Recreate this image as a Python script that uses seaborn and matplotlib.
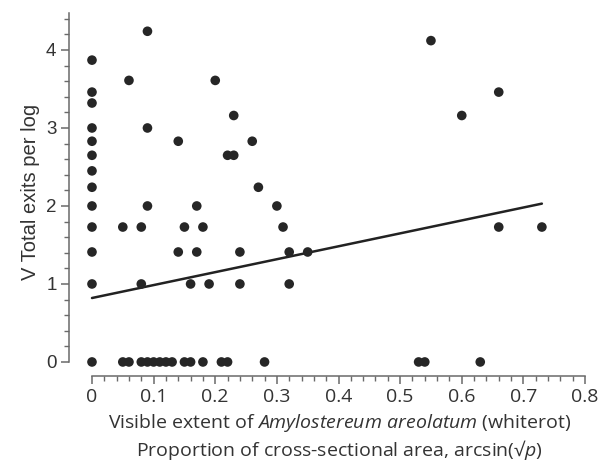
import matplotlib
matplotlib.use('Agg')
import matplotlib.pyplot as plt
import seaborn as sns
import pandas as pd
import numpy as np
from matplotlib.ticker import FixedLocator

# ---- data ----
x_vals = [0, 0, 0, 0, 0, 0, 0, 0, 0, 0, 0, 0, 0,
          0.09, 0.06, 0.20, 0.23, 0.09, 0.14, 0.22, 0.23, 0.26, 0.27,
          0.09, 0.17, 0.30,
          0.05, 0.08, 0.15, 0.18, 0.31,
          0.14, 0.17, 0.24, 0.32, 0.35,
          0.08, 0.16, 0.19, 0.24, 0.32,
          0.05, 0.06, 0.08, 0.09, 0.10, 0.11, 0.12, 0.13, 0.15, 0.16,
          0.18, 0.21, 0.22, 0.28, 0.53, 0.54, 0.63,
          0.55, 0.66, 0.60, 0.66, 0.73]
y_vals = [0, 1, 1.41, 1.73, 2, 2.24, 2.45, 2.65, 2.83, 3, 3.32, 3.46, 3.87,
          4.24, 3.61, 3.61, 3.16, 3.0, 2.83, 2.65, 2.65, 2.83, 2.24,
          2, 2, 2,
          1.73, 1.73, 1.73, 1.73, 1.73,
          1.41, 1.41, 1.41, 1.41, 1.41,
          1, 1, 1, 1, 1,
          0, 0, 0, 0, 0, 0, 0, 0, 0, 0,
          0, 0, 0, 0, 0, 0, 0,
          4.12, 3.46, 3.16, 1.73, 1.73]
fit_x = [0.0, 0.73]
fit_y = [0.82, 2.03]

x_ticks = [0, 0.1, 0.2, 0.3, 0.4, 0.5, 0.6, 0.7, 0.8]
x_tick_labels = ['0', '0.1', '0.2', '0.3', '0.4', '0.5', '0.6', '0.7', '0.8']
y_ticks = [0, 1, 2, 3, 4]
y_tick_labels = ['0', '1', '2', '3', '4']

df = pd.DataFrame({'x': x_vals, 'y': y_vals})
fit_df = pd.DataFrame({'x': fit_x, 'y': fit_y})

sns.set_theme(style='ticks')
plt.rcParams['font.family'] = ['Liberation Sans', 'DejaVu Sans']
plt.rcParams['mathtext.fontset'] = 'custom'
plt.rcParams['mathtext.rm'] = 'Open Sans'
plt.rcParams['mathtext.it'] = 'Open Sans:italic'

fig = plt.figure(figsize=(6.09, 4.62), dpi=100)
ax = fig.add_axes([69 / 609, 1 - 376 / 462, 522 / 609, 363.3 / 462])

sns.lineplot(data=fit_df, x='x', y='y', ax=ax, color='#222222', linewidth=1.8)
sns.scatterplot(data=df, x='x', y='y', ax=ax, color='#262626', s=48,
                edgecolor='none', zorder=3)

ax.set_xlim(-0.0373, 0.8097)
ax.set_ylim(-0.18, 4.478)

for s in ['top', 'right']:
    ax.spines[s].set_visible(False)
for s in ['left', 'bottom']:
    ax.spines[s].set_color('#6a6a6a')
    ax.spines[s].set_linewidth(1.1)
ax.spines['left'].set_bounds(0, 4.478)
ax.spines['bottom'].set_bounds(0, 0.8)

ax.set_xticks(x_ticks)
ax.set_xticklabels(x_tick_labels, family=['Open Sans', 'DejaVu Sans'], fontsize=14, color='#333333')
ax.set_yticks(y_ticks)
ax.set_yticklabels(y_tick_labels, fontsize=13.5, color='#333333')
ax.xaxis.set_minor_locator(FixedLocator(np.round(np.arange(0, 0.801, 0.02), 3)))
ax.yaxis.set_minor_locator(FixedLocator(np.round(np.arange(0, 4.41, 0.2), 3)))
ax.tick_params(axis='both', which='major', length=6, width=1.1, color='#6a6a6a', direction='out')
ax.tick_params(axis='both', which='minor', length=3.5, width=1.0, color='#6a6a6a', direction='out')
ax.tick_params(axis='x', which='major', pad=3)
ax.tick_params(axis='y', which='major', pad=3)

ax.set_xlabel('Visible extent of $\\mathit{Amylostereum\\ areolatum}$ (whiterot)\n'
              'Proportion of cross-sectional area, arcsin(√$\\mathit{p}$)',
              family=['Open Sans', 'DejaVu Sans'], fontsize=14, color='#333333',
              linespacing=1.22)
ax.xaxis.set_label_coords(0.518, -0.10)
ax.xaxis.label.set_verticalalignment('top')
ax.set_ylabel('V Total exits per log', fontsize=14.5, color='#333333')
ax.yaxis.set_label_coords(-0.073, 0.506)
ax.yaxis.label.set_verticalalignment('center')

fig.savefig('out.png', dpi=100, facecolor='white')
